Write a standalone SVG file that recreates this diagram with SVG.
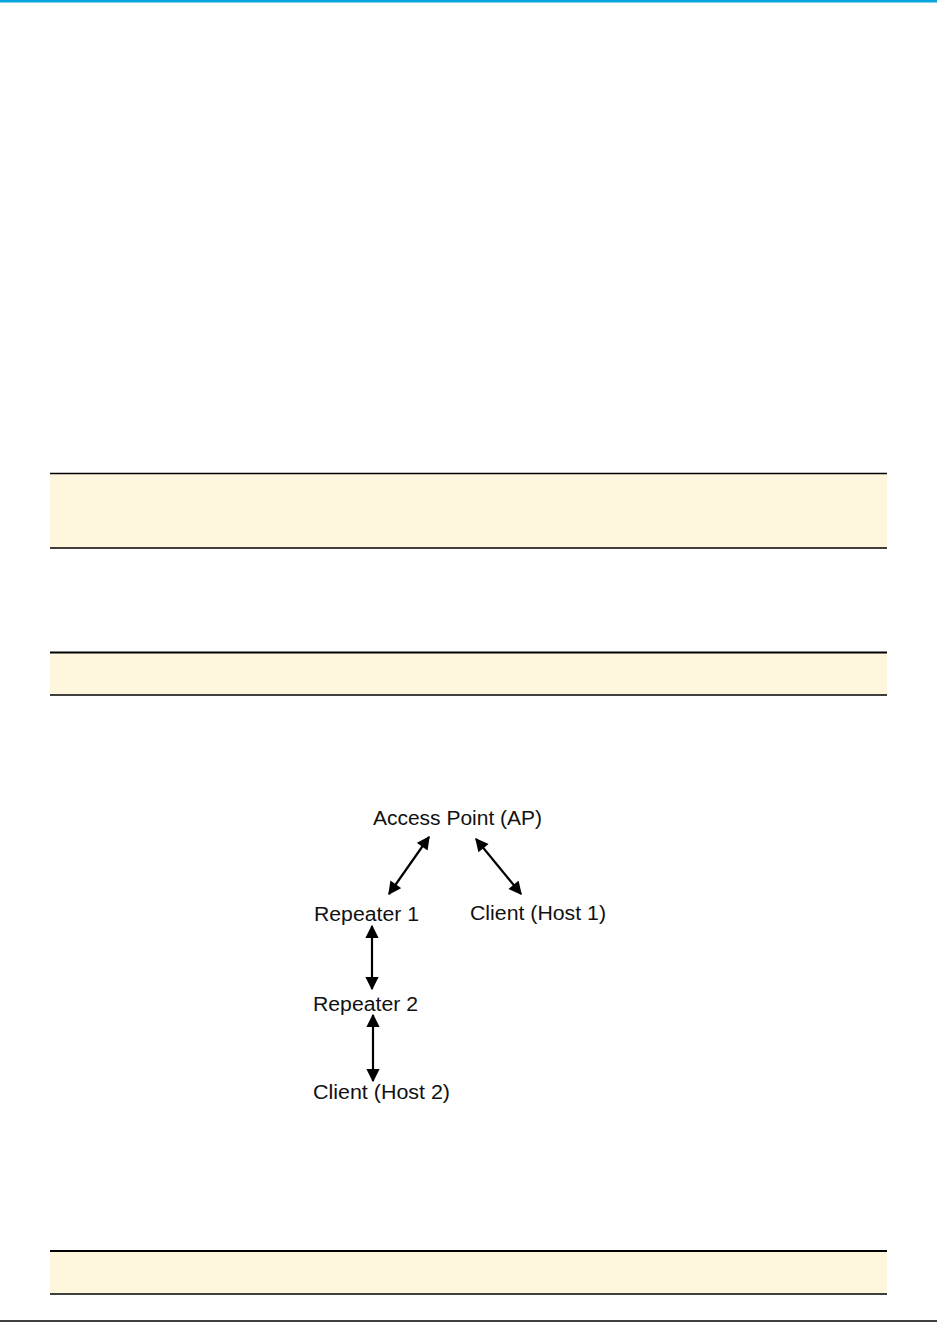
<svg xmlns="http://www.w3.org/2000/svg" width="937" height="1322" viewBox="0 0 937 1322">
  <style>
    .lbl { font-family: "Liberation Sans", Arial, sans-serif; font-size: 20px; fill: #111; }
    .band { fill: #fff7dd; }
    .rule { stroke: #000; }
    .conn { stroke: #000; stroke-width: 2.2; fill: none; marker-start: url(#ah); marker-end: url(#ah); }
  </style>
  <defs>
    <marker id="ah" viewBox="0 0 10 10" refX="9" refY="5" markerWidth="6.5" markerHeight="6" orient="auto-start-reverse" markerUnits="strokeWidth">
      <path d="M0,0 L10,5 L0,10 Z" fill="#000"/>
    </marker>
  </defs>
  <rect x="0" y="0" width="937" height="1322" fill="#fff"/>
  <rect x="0" y="0" width="937" height="2.5" fill="#0aa5dc"/>

  <g id="band1">
    <rect class="band" x="50" y="473" width="837" height="75"/>
    <line class="rule" x1="50" y1="473.5" x2="887" y2="473.5" stroke-width="1.5"/>
    <line class="rule" x1="50" y1="548" x2="887" y2="548" stroke-width="1.5"/>
  </g>
  <g id="band2">
    <rect class="band" x="50" y="652" width="837" height="43"/>
    <line class="rule" x1="50" y1="652.5" x2="887" y2="652.5" stroke-width="2"/>
    <line class="rule" x1="50" y1="695" x2="887" y2="695" stroke-width="1.5"/>
  </g>
  <g id="band3">
    <rect class="band" x="50" y="1251" width="837" height="43"/>
    <line class="rule" x1="50" y1="1251" x2="887" y2="1251" stroke-width="2"/>
    <line class="rule" x1="50" y1="1294" x2="887" y2="1294" stroke-width="1.5"/>
  </g>
  <line class="rule" x1="0" y1="1321" x2="937" y2="1321" stroke-width="1.5"/>

  <g id="ap"><text class="lbl" x="373" y="825" textLength="169" lengthAdjust="spacingAndGlyphs">Access Point (AP)</text></g>
  <g id="repeater1"><text class="lbl" x="314" y="921" textLength="105" lengthAdjust="spacingAndGlyphs">Repeater 1</text></g>
  <g id="host1"><text class="lbl" x="470" y="920" textLength="136" lengthAdjust="spacingAndGlyphs">Client (Host 1)</text></g>
  <g id="repeater2"><text class="lbl" x="313" y="1011" textLength="105" lengthAdjust="spacingAndGlyphs">Repeater 2</text></g>
  <g id="host2"><text class="lbl" x="313" y="1099" textLength="137" lengthAdjust="spacingAndGlyphs">Client (Host 2)</text></g>

  <g id="connectors">
    <line class="conn" x1="429" y1="837" x2="389" y2="894"/>
    <line class="conn" x1="476" y1="839" x2="521" y2="894"/>
    <line class="conn" x1="372" y1="926" x2="372" y2="989"/>
    <line class="conn" x1="373" y1="1015" x2="373" y2="1081"/>
  </g>
</svg>
